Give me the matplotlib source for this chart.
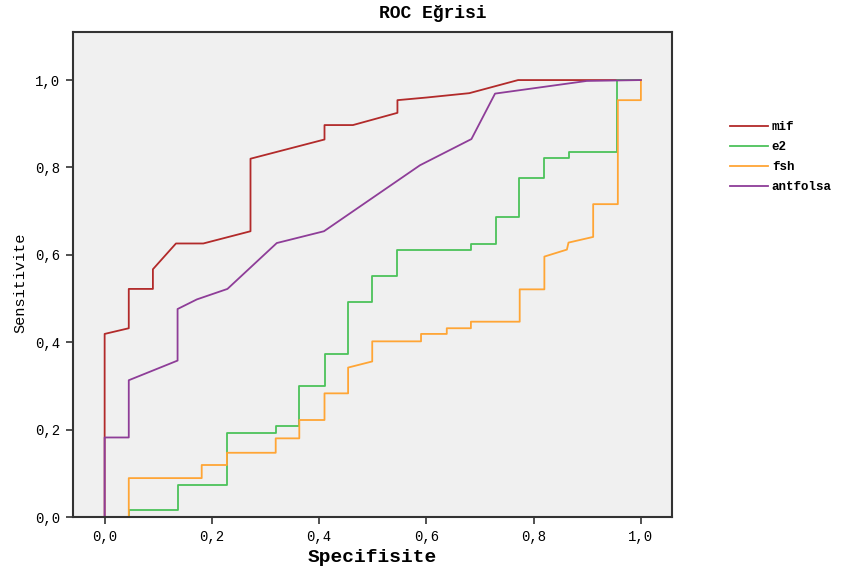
import matplotlib
matplotlib.use("Agg")
import matplotlib.pyplot as plt

# Data (1 - specificity axis labelled "Specifisite", sensitivity)
mif_x = [0.0, 0.0, 0.045, 0.045, 0.09, 0.09, 0.133, 0.184, 0.272, 0.272, 0.41, 0.41,
         0.463, 0.546, 0.546, 0.6, 0.68, 0.771, 1.0]
mif_y = [0.0, 0.419, 0.432, 0.522, 0.522, 0.567, 0.626, 0.626, 0.654, 0.820, 0.864, 0.897,
         0.897, 0.925, 0.954, 0.960, 0.970, 1.0, 1.0]

e2_x = [0.045, 0.045, 0.136, 0.136, 0.228, 0.228, 0.319, 0.319, 0.363, 0.363, 0.41, 0.41,
        0.454, 0.454, 0.499, 0.499, 0.546, 0.546, 0.683, 0.683, 0.729, 0.729, 0.773, 0.773,
        0.820, 0.820, 0.865, 0.865, 0.956, 0.956, 1.0]
e2_y = [0.0, 0.015, 0.015, 0.074, 0.074, 0.193, 0.193, 0.209, 0.209, 0.299, 0.299, 0.374,
        0.374, 0.493, 0.493, 0.551, 0.551, 0.612, 0.612, 0.625, 0.625, 0.686, 0.686, 0.777,
        0.777, 0.822, 0.822, 0.835, 0.835, 1.0, 1.0]

fsh_x = [0.045, 0.045, 0.181, 0.181, 0.228, 0.228, 0.319, 0.319, 0.363, 0.363, 0.41, 0.41,
         0.454, 0.454, 0.499, 0.499, 0.590, 0.590, 0.638, 0.638, 0.683, 0.683, 0.774, 0.774,
         0.820, 0.820, 0.862, 0.865, 0.911, 0.911, 0.957, 0.957, 1.0, 1.0]
fsh_y = [0.0, 0.089, 0.089, 0.119, 0.119, 0.147, 0.147, 0.180, 0.180, 0.222, 0.222, 0.283,
         0.283, 0.342, 0.356, 0.402, 0.402, 0.419, 0.419, 0.432, 0.432, 0.447, 0.447, 0.521,
         0.521, 0.596, 0.612, 0.628, 0.641, 0.716, 0.716, 0.954, 0.954, 1.0]

ant_x = [0.0, 0.0, 0.045, 0.045, 0.136, 0.136, 0.172, 0.229, 0.321, 0.409, 0.588, 0.684,
         0.728, 0.899, 1.0]
ant_y = [0.0, 0.182, 0.182, 0.313, 0.358, 0.476, 0.498, 0.522, 0.627, 0.654, 0.805, 0.865,
         0.969, 0.998, 1.0]

series = [("mif", mif_x, mif_y, "#b22a2a"),
          ("e2", e2_x, e2_y, "#4cc25a"),
          ("fsh", fsh_x, fsh_y, "#ffa535"),
          ("antfolsa", ant_x, ant_y, "#8e3d98")]

ticks = [0.0, 0.2, 0.4, 0.6, 0.8, 1.0]
tick_labels = ["0,0", "0,2", "0,4", "0,6", "0,8", "1,0"]

mono = ["Liberation Mono", "DejaVu Sans Mono"]

fig = plt.figure(figsize=(8.45, 5.74), dpi=100)
fig.patch.set_facecolor("white")
ax = fig.add_axes([73 / 845, 1 - 517 / 574, (672 - 73) / 845, (517 - 32) / 574])
ax.set_facecolor("#f0f0f0")

handles = []
for name, xs, ys, col in series:
    h, = ax.plot(xs, ys, color=col, lw=1.3, label=name)
    handles.append(h)

ax.set_xlim(-0.059, 1.058)
ax.set_ylim(0.0, 1.11)
ax.set_xticks(ticks)
ax.set_xticklabels(tick_labels, family=mono, fontsize=10)
ax.set_yticks(ticks)
ax.set_yticklabels(tick_labels, family=mono, fontsize=10)
ax.tick_params(direction="out", length=5, width=1.2, color="#333333", pad=4)
for sp in ax.spines.values():
    sp.set_color("#333333")
    sp.set_linewidth(1.5)

fig.text(433 / 845, 1 - 14 / 574, "ROC Eğrisi", ha="center", va="center",
         family=mono, fontsize=13, fontweight="bold")
fig.text(372 / 845, 1 - 558 / 574, "Specifisite", ha="center", va="center",
         family=mono, fontsize=14, fontweight="bold")
fig.text(20 / 845, 1 - 283 / 574, "Sensitivite", ha="center", va="center",
         rotation=90, family=mono, fontsize=11)

leg = fig.legend(handles=handles, labels=[s[0] for s in series],
                 loc="upper left", bbox_to_anchor=(725 / 845, 1 - 116 / 574),
                 frameon=False, prop={"family": mono, "size": 9, "weight": "bold"},
                 handlelength=3.0, handletextpad=0.35, labelspacing=0.65,
                 borderaxespad=0)

fig.savefig("out.png", dpi=100)
